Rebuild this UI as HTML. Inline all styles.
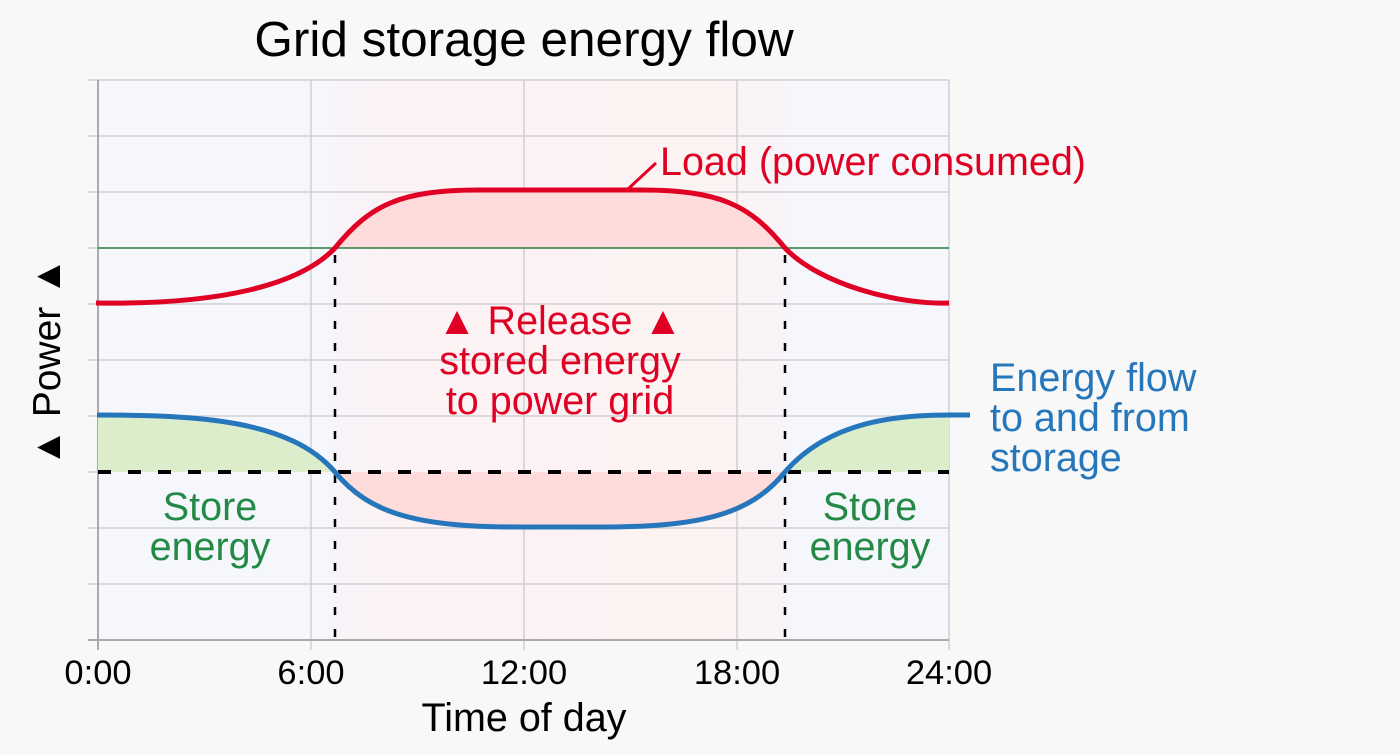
<!DOCTYPE html>
<html><head><style>body{margin:0;background:#f8f8f8}</style></head><body>
<svg width="1400" height="750" xmlns="http://www.w3.org/2000/svg" font-family="Liberation Sans, sans-serif">
<defs>
<linearGradient id="pg" x1="0" x2="1" y1="0" y2="0">
<stop offset="0" stop-color="#f7f4f9"/><stop offset="0.15" stop-color="#fdf2f4"/><stop offset="0.85" stop-color="#fcf3f3"/><stop offset="1" stop-color="#f7f4f8"/></linearGradient>
</defs>
<rect width="1400" height="750" fill="#f8f8f8"/>
<rect x="98" y="80" width="851" height="560" fill="#f5f7fd"/>
<rect x="335" y="80" width="450" height="560" fill="url(#pg)"/>
<g stroke="#d0d0d4" stroke-width="1.5">
<line x1="88" y1="80" x2="949" y2="80"/><line x1="88" y1="136" x2="949" y2="136"/><line x1="88" y1="192" x2="949" y2="192"/>
<line x1="88" y1="304" x2="949" y2="304"/><line x1="88" y1="360" x2="949" y2="360"/><line x1="88" y1="416" x2="949" y2="416"/>
<line x1="88" y1="528" x2="949" y2="528"/><line x1="88" y1="584" x2="949" y2="584"/>
<line x1="88" y1="248" x2="98" y2="248"/><line x1="88" y1="472" x2="98" y2="472"/>
<line x1="311" y1="80" x2="311" y2="650"/><line x1="524" y1="80" x2="524" y2="650"/><line x1="737" y1="80" x2="737" y2="650"/><line x1="949" y1="80" x2="949" y2="650"/>
</g>
<line x1="88" y1="640" x2="949" y2="640" stroke="#aaa" stroke-width="2"/>
<line x1="98" y1="80" x2="98" y2="650" stroke="#aaa" stroke-width="2"/>
<path d="M335,248 C370,205 400,190 480,190 L640,190 C720,190 750,205 785,248 Z" fill="#ffdcdc"/>
<path d="M335,472 C370,515 420,527 520,527 L600,527 C700,527 750,515 785,472 Z" fill="#ffdcdc"/>
<path d="M98,415 C200,415 290,420 335,472 L98,472 Z" fill="#dcedcc"/>
<path d="M785,472 C830,420 900,415 949,415 L949,472 Z" fill="#dcedcc"/>
<line x1="98" y1="248" x2="949" y2="248" stroke="#2a7d3a" stroke-width="1.5"/>
<g stroke="#000" stroke-width="2.5" stroke-dasharray="8,14">
<line x1="335" y1="255" x2="335" y2="640"/><line x1="785" y1="255" x2="785" y2="640"/>
</g>
<line x1="98" y1="472" x2="949" y2="472" stroke="#000" stroke-width="4" stroke-dasharray="13,17"/>
<path d="M96,303 C220,305 300,285 335,248 C370,205 400,190 480,190 L640,190 C720,190 750,205 785,248 C820,285 900,305 949,303" fill="none" stroke="#e00024" stroke-width="5"/>
<path d="M97,415 C200,415 290,420 335,472 C370,515 420,527 520,527 L600,527 C700,527 750,515 785,472 C830,420 900,415 949,415 L970,415" fill="none" stroke="#2676bb" stroke-width="5"/>
<line x1="628" y1="189" x2="656" y2="163" stroke="#e00024" stroke-width="3"/>
<text x="524" y="56" font-size="49.5" text-anchor="middle" fill="#000">Grid storage energy flow</text>
<text x="660" y="175" font-size="39.5" fill="#e00024">Load (power consumed)</text>
<g font-size="39.5" fill="#e00024" text-anchor="middle">
<text x="560" y="334">▲ Release ▲</text><text x="560" y="374">stored energy</text><text x="560" y="414">to power grid</text></g>
<g font-size="39.5" fill="#2676bb"><text x="990" y="391">Energy flow</text><text x="990" y="431">to and from</text><text x="990" y="471">storage</text></g>
<g font-size="39.5" fill="#238a45" text-anchor="middle">
<text x="210" y="520">Store</text><text x="210" y="560">energy</text>
<text x="870" y="520">Store</text><text x="870" y="560">energy</text></g>
<g font-size="34.5" fill="#000" text-anchor="middle">
<text x="98" y="684">0:00</text><text x="311" y="684">6:00</text><text x="524" y="684">12:00</text><text x="737" y="684">18:00</text><text x="949" y="684">24:00</text></g>
<text x="524" y="731" font-size="39.5" text-anchor="middle">Time of day</text>
<text transform="translate(60,362) rotate(-90)" font-size="39" text-anchor="middle">▲ Power ▲</text>
</svg>
</body></html>
